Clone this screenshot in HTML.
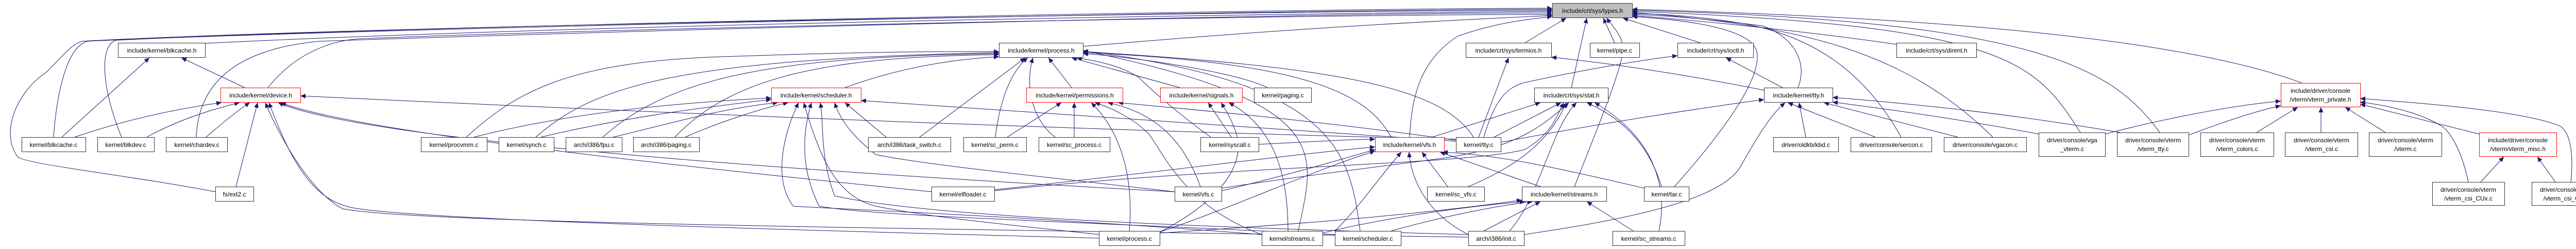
<!DOCTYPE html>
<html><head><meta charset="utf-8"><style>
html,body{margin:0;padding:0;background:#fff;}
svg{display:block;}
text{font-family:"Liberation Sans",sans-serif;font-size:12px;fill:#000;text-anchor:middle;}
.n{fill:#fff;stroke:#333;stroke-width:1;}
.r{fill:#fff;stroke:#f00;stroke-width:1;}
.g{fill:#bfbfbf;stroke:#333;stroke-width:1;}
path.e{fill:none;stroke:#191970;stroke-width:1;marker-end:url(#a);}
</style></head><body>
<svg width="5055" height="483" viewBox="0 0 5055 483" xmlns="http://www.w3.org/2000/svg">
<defs><marker id="a" markerWidth="11" markerHeight="9" refX="10" refY="4.5" orient="auto" markerUnits="userSpaceOnUse"><path d="M0,0 L10,4.5 L0,9 z" fill="#191970"/></marker></defs>
<g>
<!-- to types.h -->
<path class="e" d="M398,84 C1200,45 2500,26 3013,22"/>
<path class="e" d="M104,266 C110,180 130,90 170,80 C700,55 2500,18 3013,18"/>
<path class="e" d="M236,266 C200,180 190,90 225,78 C800,50 2500,16 3013,16"/>
<path class="e" d="M381,266 C385,160 460,95 620,80 C1200,60 2500,25 3013,25"/>
<path class="e" d="M418,372 C250,340 60,320 35,305 C0,260 30,180 90,140 C130,100 140,85 160,80 C700,50 2500,20 3013,20"/>
<path class="e" d="M520,170 C560,120 620,80 700,75 C1200,55 2500,28 3013,28"/>
<path class="e" d="M2102,90 C2500,55 2800,40 3013,30"/>
<path class="e" d="M2736,266 C2740,200 2750,120 2830,70 C2900,45 2960,38 3013,32"/>
<path class="e" d="M2960,83 L3040,35"/>
<path class="e" d="M3050,170 L3080,35"/>
<path class="e" d="M3134,83 L3112,35"/>
<path class="e" d="M3056,362 C3100,250 3150,130 3150,95 C3150,70 3130,50 3118,35"/>
<path class="e" d="M3300,83 L3150,35"/>
<path class="e" d="M3490,170 C3510,120 3480,70 3420,50 C3300,35 3230,30 3168,28"/>
<path class="e" d="M3681,86 C3500,60 3300,40 3168,30"/>
<path class="e" d="M3690,266 C3620,140 3520,70 3380,45 C3300,32 3230,27 3168,26"/>
<path class="e" d="M3868,266 C3700,100 3500,50 3168,24"/>
<path class="e" d="M4038,257 C3950,120 3900,50 3168,22"/>
<path class="e" d="M4192,257 C4100,130 3950,40 3168,20"/>
<path class="e" d="M4468,161 C4200,60 3600,30 3168,18"/>
<path class="e" d="M3250,362 C3350,250 3420,150 3410,100 C3400,60 3300,40 3168,32"/>
<!-- to process.h -->
<path class="e" d="M905,266 C1000,180 1100,120 1400,110 C1700,100 1800,100 1939,100"/>
<path class="e" d="M1040,266 C1150,170 1300,115 1939,102"/>
<path class="e" d="M1170,266 C1300,150 1500,110 1939,104"/>
<path class="e" d="M1310,266 C1420,150 1600,110 1939,106"/>
<path class="e" d="M1640,170 C1750,130 1850,115 1939,110"/>
<path class="e" d="M1785,266 L1990,112"/>
<path class="e" d="M1932,266 C1940,200 1960,140 1995,112"/>
<path class="e" d="M2048,266 C2000,230 1990,160 2005,112"/>
<path class="e" d="M2080,170 L2035,112"/>
<path class="e" d="M2290,170 L2080,112"/>
<path class="e" d="M2350,266 C2300,230 2240,180 2210,150 C2180,130 2140,120 2090,112"/>
<path class="e" d="M2460,170 C2400,140 2200,110 2102,104"/>
<path class="e" d="M2700,266 C2650,170 2500,120 2102,102"/>
<path class="e" d="M2860,266 C2800,170 2600,130 2102,100"/>
<path class="e" d="M2640,448 C2620,300 2600,160 2102,99"/>
<path class="e" d="M2520,448 C2550,300 2600,200 2102,98"/>
<!-- to scheduler.h -->
<path class="e" d="M920,266 C1100,220 1300,200 1497,190"/>
<path class="e" d="M1050,266 C1200,230 1350,210 1497,193"/>
<path class="e" d="M1190,266 C1300,240 1400,210 1510,199"/>
<path class="e" d="M1330,266 C1400,235 1480,210 1530,199"/>
<path class="e" d="M1720,266 L1640,199"/>
<path class="e" d="M2133,455 C1900,430 1800,420 1700,400 C1620,380 1590,300 1560,199"/>
<path class="e" d="M2449,455 C2000,420 1620,405 1540,400 C1500,350 1520,260 1550,199"/>
<path class="e" d="M2591,455 C2100,430 1700,420 1590,400 C1550,320 1560,250 1575,199"/>
<path class="e" d="M2850,455 C2300,440 1800,420 1620,380 C1590,300 1600,240 1592,199"/>
<path class="e" d="M2280,372 C2000,340 1800,320 1700,300 C1650,260 1630,230 1620,199"/>
<path class="e" d="M2826,274 C2300,240 1900,210 1671,195"/>
<!-- to device.h -->
<path class="e" d="M145,266 C250,230 350,210 430,199"/>
<path class="e" d="M285,266 C350,230 420,210 465,199"/>
<path class="e" d="M400,266 C430,240 460,215 485,199"/>
<path class="e" d="M458,362 L500,199"/>
<path class="e" d="M2850,460 C1500,440 800,430 665,405 C600,370 540,260 515,199"/>
<path class="e" d="M2133,462 C1500,445 750,425 672,400 C600,380 560,300 522,199"/>
<path class="e" d="M2280,372 C1500,330 700,270 540,199"/>
<path class="e" d="M1808,372 C1400,330 700,260 545,199"/>
<path class="e" d="M2826,270 C2000,250 1200,215 583,186"/>
<!-- to blkcache.h -->
<path class="e" d="M120,266 L290,112"/>
<path class="e" d="M475,170 L352,112"/>
<!-- permissions.h -->
<path class="e" d="M1955,266 L2060,199"/>
<path class="e" d="M2085,266 L2085,199"/>
<path class="e" d="M2192,448 C2200,350 2180,260 2118,199"/>
<path class="e" d="M2449,455 C2300,400 2260,300 2230,260 C2200,230 2160,210 2125,199"/>
<path class="e" d="M2330,362 C2300,280 2250,220 2150,199"/>
<path class="e" d="M2826,272 C2600,240 2400,220 2170,199"/>
<!-- signals.h -->
<path class="e" d="M2390,266 L2345,199"/>
<path class="e" d="M2251,450 C2350,400 2420,330 2400,260 C2390,230 2380,215 2370,199"/>
<path class="e" d="M2500,448 C2500,350 2480,250 2385,199"/>
<!-- stat.h -->
<path class="e" d="M2780,266 L2990,199"/>
<path class="e" d="M2900,266 L3030,199"/>
<path class="e" d="M2850,362 C2950,320 3010,270 3040,199"/>
<path class="e" d="M3225,362 C3200,280 3150,230 3080,199"/>
<path class="e" d="M2930,448 C2990,380 3010,250 3060,199"/>
<path class="e" d="M3220,448 C3240,350 3200,260 3095,199"/>
<path class="e" d="M2371,365 C2600,330 2800,310 2840,300 C2950,280 3000,240 3045,199"/>
<path class="e" d="M1930,370 C2400,320 2850,320 2960,290 C3010,260 3020,230 3035,199"/>
<!-- termios.h / ioctl.h -->
<path class="e" d="M2870,266 L2928,112"/>
<path class="e" d="M3424,175 C3250,140 3100,120 3011,111"/>
<path class="e" d="M2880,266 C2900,200 2920,170 2960,160 C3100,130 3200,115 3256,108"/>
<path class="e" d="M3460,170 L3350,112"/>
<!-- vfs.h -->
<path class="e" d="M2810,362 L2760,295"/>
<path class="e" d="M2990,362 L2795,295"/>
<path class="e" d="M3191,365 C3000,320 2900,300 2800,295"/>
<path class="e" d="M2371,370 C2500,340 2600,310 2669,290"/>
<path class="e" d="M1930,368 C2200,340 2500,300 2669,285"/>
<path class="e" d="M2850,455 C2780,420 2740,360 2735,295"/>
<path class="e" d="M2591,448 C2640,400 2680,340 2720,295"/>
<path class="e" d="M2251,450 C2400,400 2550,330 2669,293"/>
<path class="e" d="M2443,280 C2550,275 2620,270 2669,270"/>
<!-- streams.h -->
<path class="e" d="M2880,448 L2990,391"/>
<path class="e" d="M3170,448 L3080,391"/>
<path class="e" d="M2251,452 C2600,430 2800,410 2954,388"/>
<path class="e" d="M2567,452 C2700,420 2850,400 2960,391"/>
<path class="e" d="M2700,448 C2800,420 2900,400 2975,391"/>
<!-- tty.h -->
<path class="e" d="M2913,276 C3100,240 3300,210 3424,193"/>
<path class="e" d="M3505,266 L3492,199"/>
<path class="e" d="M3640,266 L3470,199"/>
<path class="e" d="M3800,266 L3540,199"/>
<path class="e" d="M3957,260 C3800,230 3650,210 3557,198"/>
<path class="e" d="M4115,257 C3900,220 3700,200 3557,189"/>
<path class="e" d="M2958,455 C3200,420 3350,380 3380,320 C3420,250 3440,220 3465,199"/>
<!-- vterm_private.h -->
<path class="e" d="M4086,260 C4200,230 4330,205 4427,196"/>
<path class="e" d="M4248,262 C4320,235 4380,215 4427,205"/>
<path class="e" d="M4380,257 L4460,208"/>
<path class="e" d="M4505,257 L4505,208"/>
<path class="e" d="M4630,257 L4552,208"/>
<path class="e" d="M4812,260 L4581,202"/>
<path class="e" d="M4791,353 C4780,300 4760,260 4740,245 C4700,220 4640,205 4581,198"/>
<path class="e" d="M4990,353 C4995,300 4990,260 4970,245 C4900,215 4700,200 4581,191"/>
<!-- vterm_misc.h -->
<path class="e" d="M4815,353 L4860,304"/>
<path class="e" d="M4960,353 L4925,304"/>
</g>
<g>
<rect class="g" x="3013.5" y="6.5" width="155" height="28"/><text x="3091" y="25">include/crt/sys/types.h</text>
<rect class="n" x="229.5" y="83.5" width="169" height="28"/><text x="314" y="102">include/kernel/blkcache.h</text>
<rect class="n" x="1939.5" y="83.5" width="163" height="28"/><text x="2021" y="102">include/kernel/process.h</text>
<rect class="n" x="2845.5" y="83.5" width="166" height="28"/><text x="2928" y="102">include/crt/sys/termios.h</text>
<rect class="n" x="3086.5" y="83.5" width="96" height="28"/><text x="3134" y="102">kernel/pipe.c</text>
<rect class="n" x="3256.5" y="83.5" width="147" height="28"/><text x="3330" y="102">include/crt/sys/ioctl.h</text>
<rect class="n" x="3681.5" y="83.5" width="155" height="28"/><text x="3759" y="102">include/crt/sys/dirent.h</text>
<rect class="r" x="428.5" y="170.5" width="155" height="28"/><text x="506" y="189">include/kernel/device.h</text>
<rect class="r" x="1497.5" y="170.5" width="174" height="28"/><text x="1584" y="189">include/kernel/scheduler.h</text>
<rect class="r" x="1992.5" y="170.5" width="187" height="28"/><text x="2086" y="189">include/kernel/permissions.h</text>
<rect class="r" x="2252.5" y="170.5" width="159" height="28"/><text x="2332" y="189">include/kernel/signals.h</text>
<rect class="n" x="2434.5" y="170.5" width="111" height="28"/><text x="2490" y="189">kernel/paging.c</text>
<rect class="n" x="2978.5" y="170.5" width="143" height="28"/><text x="3050" y="189">include/crt/sys/stat.h</text>
<rect class="n" x="3424.5" y="170.5" width="133" height="28"/><text x="3491" y="189">include/kernel/tty.h</text>
<rect class="r" x="4427.5" y="161.5" width="154" height="46"/><text x="4504" y="180">include/driver/console</text><text x="4504" y="197">/vterm/vterm_private.h</text>
<rect class="n" x="42.5" y="266.5" width="124" height="28"/><text x="104" y="285">kernel/blkcache.c</text>
<rect class="n" x="189.5" y="266.5" width="110" height="28"/><text x="244" y="285">kernel/blkdev.c</text>
<rect class="n" x="322.5" y="266.5" width="119" height="28"/><text x="382" y="285">kernel/chardev.c</text>
<rect class="n" x="817.5" y="266.5" width="128" height="28"/><text x="881" y="285">kernel/procvmm.c</text>
<rect class="n" x="968.5" y="266.5" width="107" height="28"/><text x="1022" y="285">kernel/synch.c</text>
<rect class="n" x="1098.5" y="266.5" width="109" height="28"/><text x="1153" y="285">arch/i386/fpu.c</text>
<rect class="n" x="1229.5" y="266.5" width="128" height="28"/><text x="1293" y="285">arch/i386/paging.c</text>
<rect class="n" x="1685.5" y="266.5" width="160" height="28"/><text x="1765" y="285">arch/i386/task_switch.c</text>
<rect class="n" x="1870.5" y="266.5" width="122" height="28"/><text x="1931" y="285">kernel/sc_perm.c</text>
<rect class="n" x="2016.5" y="266.5" width="138" height="28"/><text x="2085" y="285">kernel/sc_process.c</text>
<rect class="n" x="2330.5" y="266.5" width="113" height="28"/><text x="2387" y="285">kernel/syscall.c</text>
<rect class="r" x="2669.5" y="266.5" width="134" height="28"/><text x="2736" y="285">include/kernel/vfs.h</text>
<rect class="n" x="2826.5" y="266.5" width="87" height="28"/><text x="2870" y="285">kernel/tty.c</text>
<rect class="n" x="3442.5" y="266.5" width="126" height="28"/><text x="3505" y="285">driver/oldkb/kbd.c</text>
<rect class="n" x="3592.5" y="266.5" width="157" height="28"/><text x="3671" y="285">driver/console/sercon.c</text>
<rect class="n" x="3773.5" y="266.5" width="160" height="28"/><text x="3853" y="285">driver/console/vgacon.c</text>
<rect class="n" x="3957.5" y="257.5" width="129" height="46"/><text x="4022" y="276">driver/console/vga</text><text x="4022" y="293">_vterm.c</text>
<rect class="n" x="4109.5" y="257.5" width="139" height="46"/><text x="4179" y="276">driver/console/vterm</text><text x="4179" y="293">/vterm_tty.c</text>
<rect class="n" x="4271.5" y="257.5" width="142" height="46"/><text x="4342" y="276">driver/console/vterm</text><text x="4342" y="293">/vterm_colors.c</text>
<rect class="n" x="4435.5" y="257.5" width="141" height="46"/><text x="4506" y="276">driver/console/vterm</text><text x="4506" y="293">/vterm_csi.c</text>
<rect class="n" x="4598.5" y="257.5" width="141" height="46"/><text x="4669" y="276">driver/console/vterm</text><text x="4669" y="293">/vterm.c</text>
<rect class="r" x="4812.5" y="257.5" width="150" height="46"/><text x="4887" y="276">include/driver/console</text><text x="4887" y="293">/vterm/vterm_misc.h</text>
<rect class="n" x="418.5" y="362.5" width="74" height="28"/><text x="455" y="381">fs/ext2.c</text>
<rect class="n" x="1808.5" y="362.5" width="122" height="28"/><text x="1869" y="381">kernel/elfloader.c</text>
<rect class="n" x="2280.5" y="362.5" width="91" height="28"/><text x="2326" y="381">kernel/vfs.c</text>
<rect class="n" x="2770.5" y="362.5" width="111" height="28"/><text x="2826" y="381">kernel/sc_vfs.c</text>
<rect class="n" x="2954.5" y="362.5" width="164" height="28"/><text x="3036" y="381">include/kernel/streams.h</text>
<rect class="n" x="3191.5" y="362.5" width="87" height="28"/><text x="3235" y="381">kernel/tar.c</text>
<rect class="n" x="4721.5" y="353.5" width="140" height="45"/><text x="4791" y="372">driver/console/vterm</text><text x="4791" y="389">/vterm_csi_CUx.c</text>
<rect class="n" x="4914.5" y="353.5" width="140" height="45"/><text x="4984" y="372">driver/console/vterm</text><text x="4984" y="389">/vterm_csi_CUP.c</text>
<rect class="n" x="2133.5" y="448.5" width="118" height="28"/><text x="2192" y="467">kernel/process.c</text>
<rect class="n" x="2449.5" y="448.5" width="118" height="28"/><text x="2508" y="467">kernel/streams.c</text>
<rect class="n" x="2591.5" y="448.5" width="128" height="28"/><text x="2655" y="467">kernel/scheduler.c</text>
<rect class="n" x="2850.5" y="448.5" width="108" height="28"/><text x="2904" y="467">arch/i386/init.c</text>
<rect class="n" x="3130.5" y="448.5" width="140" height="28"/><text x="3200" y="467">kernel/sc_streams.c</text>
</g>
</svg>
</body></html>
